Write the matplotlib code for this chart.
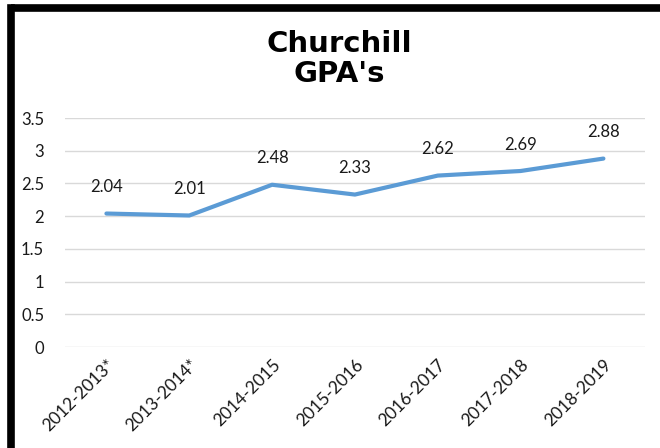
import matplotlib
matplotlib.use("Agg")
import matplotlib.pyplot as plt
from matplotlib.lines import Line2D

# school years and GPA values
years = ["2012-2013*", "2013-2014*", "2014-2015", "2015-2016",
         "2016-2017", "2017-2018", "2018-2019"]
gpa = [2.04, 2.01, 2.48, 2.33, 2.62, 2.69, 2.88]
yticks = [0, 0.5, 1, 1.5, 2, 2.5, 3, 3.5]

plt.rcParams['font.family'] = ['Lato', 'DejaVu Sans']

fig = plt.figure(figsize=(6.6, 4.48), dpi=100)
ax = fig.add_axes([0.0985, 0.2254, 0.8785, 0.5112])

x = list(range(len(years)))
ax.plot(x, gpa, color='#5B9BD5', lw=3, solid_capstyle='round', zorder=3)
for xi, v in zip(x, gpa):
    ax.annotate(f"{v:.2f}", (xi, v), xytext=(0, 19), textcoords='offset points',
                ha='center', va='center', fontsize=12, color='#1a1a1a')

ax.set_xlim(-0.5, len(years) - 0.5)
ax.set_ylim(0, 3.5)
ax.set_yticks(yticks)
ax.set_yticklabels([f"{t:g}" for t in yticks], fontsize=12, color='#1a1a1a')
ax.set_xticks(x)
ax.set_xticklabels(years, rotation=45, ha='right', rotation_mode='anchor',
                   fontsize=12.5, color='#1a1a1a')
ax.tick_params(length=0)
ax.tick_params(axis='y', pad=15)
ax.tick_params(axis='x', pad=7)
ax.grid(axis='y', color='#d9d9d9', lw=1)
ax.set_axisbelow(True)
for s in ax.spines.values():
    s.set_visible(False)

fig.text(0.514, 0.869, "Churchill\nGPA's", ha='center', va='center',
         fontsize=21, fontweight='bold', family='DejaVu Sans', linespacing=1.1)

# thick black frame on top and left edges
fig.add_artist(Line2D([0.0167, 1.0], [0.983, 0.983], color='black', lw=5.5,
                      transform=fig.transFigure, solid_capstyle='butt'))
fig.add_artist(Line2D([0.0167, 0.0167], [0.0, 0.983], color='black', lw=5.5,
                      transform=fig.transFigure, solid_capstyle='projecting'))

fig.savefig("out.png", dpi=100)
